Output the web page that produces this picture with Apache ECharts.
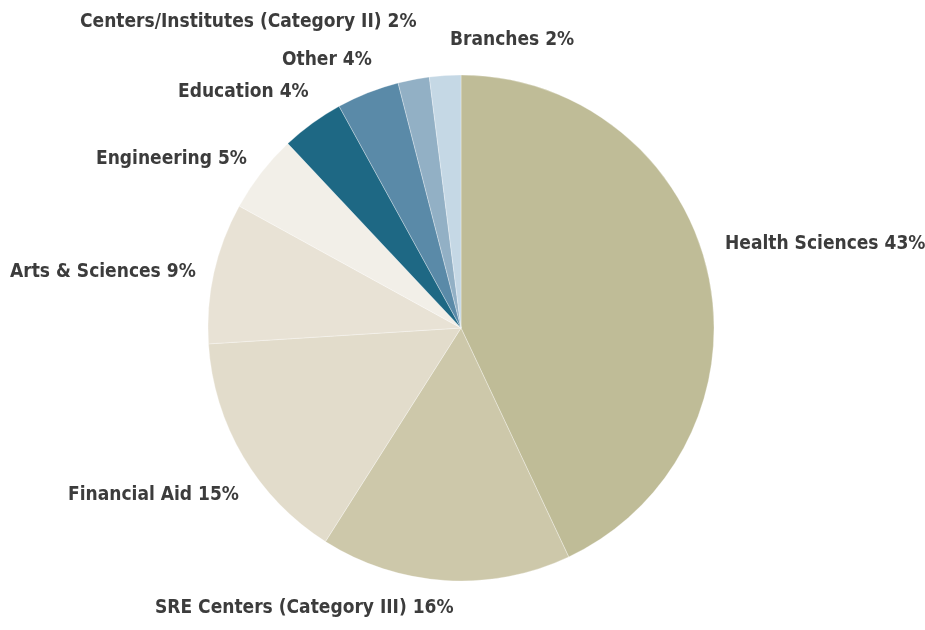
<!DOCTYPE html>
<head>
<meta charset="utf-8">
<title>ECharts</title>
<style>
  html, body { margin: 0; padding: 0; background: #fff; }
</style>
</head>
<body>
<div id="main" style="width: 925px; height: 630px"></div>
<script src="https://cdn.jsdelivr.net/npm/echarts@6/dist/echarts.min.js"></script>
<script>
var categories = ['Health Sciences', 'SRE Centers (Category III)', 'Financial Aid', 'Arts & Sciences',
    'Engineering', 'Education', 'Other', 'Centers/Institutes (Category II)', 'Branches'];
var values = [43, 16, 15, 9, 5, 4, 4, 2, 2];
var colors = ['#bfbc97', '#cdc8aa', '#e2dccb', '#e8e2d5', '#f2efe8', '#1e6884', '#5a8aa8', '#92b0c5', '#c5d8e5'];
// label anchor points (left edge, vertical middle)
var labelPos = [[725, 244], [155, 608], [68, 495], [10, 272], [96, 159], [178, 92], [282, 60], [80, 22], [450, 40]];

var myChart = echarts.init(document.getElementById('main'));

var data = [];
for (var i = 0; i < categories.length; i++) {
    data.push({ name: categories[i], value: values[i], itemStyle: { color: colors[i] } });
}

myChart.setOption({
    animation: false,
    series: [{
        type: 'pie',
        center: [461, 328],
        radius: 253,
        startAngle: 90,
        clockwise: true,
        data: data,
        itemStyle: { borderColor: 'rgba(255,255,255,0.5)', borderWidth: 0.6 },
        label: {
            show: true,
            formatter: '{b} {c}%',
            color: '#3c3c3c',
            fontFamily: '"DejaVu Sans Condensed", "Open Sans", sans-serif',
            fontWeight: 'bold',
            fontSize: 19,
            overflow: 'none',
            width: 400
        },
        labelLine: { show: false },
        labelLayout: function (params) {
            var p = labelPos[params.dataIndex];
            return { x: p[0], y: p[1], align: 'left', verticalAlign: 'middle' };
        },
        emphasis: { disabled: true }
    }]
});
</script>
</body>
</html>
